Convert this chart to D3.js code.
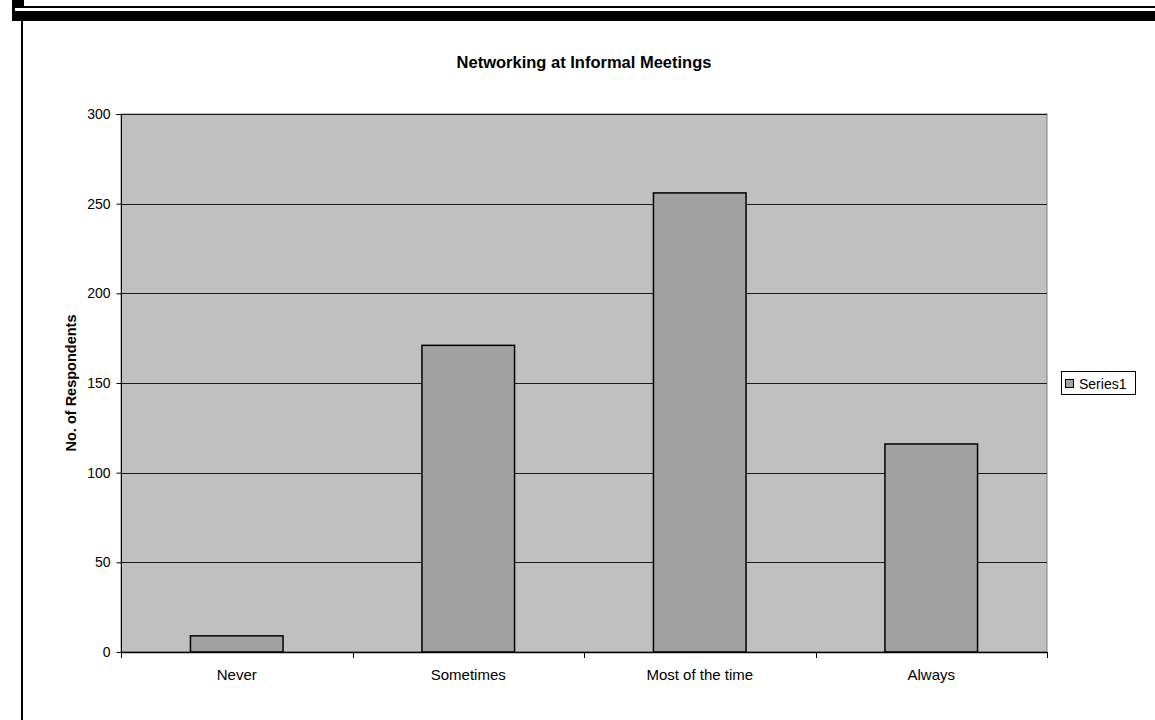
<!DOCTYPE html>
<html>
<head>
<meta charset="utf-8">
<script src="https://cdn.jsdelivr.net/npm/d3@7"></script>
<style>
  html, body { margin: 0; padding: 0; background: #fff; }
  svg { display: block; font-family: "Liberation Sans", Arial, sans-serif; }
</style>
</head>
<body>
<svg id="chart" width="1155" height="720"></svg>
<script>
// Survey responses: how often networking happens at informal meetings
const categories = ["Never", "Sometimes", "Most of the time", "Always"];
const values = [9, 171, 256, 116];
const yTicks = [0, 50, 100, 150, 200, 250, 300];
const seriesName = "Series1";
const chartTitle = "Networking at Informal Meetings";
const yTitle = "No. of Respondents";

const svg = d3.select("#chart");

// Document frame decoration along the top and left edges
const frame = svg.append("g");
frame.append("rect").attr("x", 12).attr("y", 0).attr("width", 12).attr("height", 8).attr("fill", "#000");
frame.append("rect").attr("x", 12).attr("y", 6).attr("width", 1143).attr("height", 2).attr("fill", "#000");
frame.append("rect").attr("x", 12).attr("y", 0).attr("width", 3).attr("height", 21).attr("fill", "#000");
frame.append("rect").attr("x", 12).attr("y", 11).attr("width", 1143).attr("height", 10).attr("fill", "#000");
frame.append("rect").attr("x", 21).attr("y", 21).attr("width", 2).attr("height", 699).attr("fill", "#000");

// Plot area
const plot = { left: 121, right: 1047, top: 114, bottom: 652 };

const x = d3.scaleBand()
  .domain(categories)
  .range([plot.left, plot.right])
  .paddingInner(0.6)
  .paddingOuter(0.3);

const xEdge = d3.scaleLinear().domain([0, categories.length]).range([plot.left, plot.right]);

const y = d3.scaleLinear().domain([0, 300]).range([plot.bottom, plot.top]);

// Background of the plot area
svg.append("rect")
  .attr("x", plot.left).attr("y", plot.top)
  .attr("width", plot.right - plot.left).attr("height", plot.bottom - plot.top)
  .attr("fill", "#c0c0c0")
  .attr("stroke", "#808080").attr("stroke-width", 1);

// Horizontal gridlines
svg.append("g")
  .selectAll("line")
  .data(yTicks.filter(d => d > 0))
  .join("line")
  .attr("x1", plot.left).attr("x2", plot.right)
  .attr("y1", d => Math.round(y(d)) + 0.5).attr("y2", d => Math.round(y(d)) + 0.5)
  .attr("stroke", "#1a1a1a").attr("stroke-width", 1);

// Bars
svg.append("g")
  .selectAll("rect")
  .data(values)
  .join("rect")
  .attr("x", (d, i) => x(categories[i]))
  .attr("y", d => y(d))
  .attr("width", x.bandwidth())
  .attr("height", d => y(0) - y(d))
  .attr("fill", "#a2a2a2")
  .attr("stroke", "#000").attr("stroke-width", 1.5);

// Y axis
const yAxis = d3.axisLeft(y).tickValues(yTicks).tickSize(5).tickPadding(6).tickFormat(d3.format("d"));
const gy = svg.append("g")
  .attr("transform", `translate(${plot.left + 0.5},0)`)
  .call(yAxis);
gy.select(".domain").attr("stroke", "#000").attr("d", `M-5,${plot.top + 0.5}H0V${plot.bottom}`);
gy.selectAll(".tick line").attr("stroke", "#000");
gy.selectAll(".tick text").attr("font-size", 14).attr("fill", "#000")
  .attr("font-family", "Liberation Sans, Arial, sans-serif");

// X axis: baseline, ticks at category boundaries, labels centred under bars
const gx = svg.append("g");
gx.append("line")
  .attr("x1", plot.left).attr("x2", plot.right)
  .attr("y1", plot.bottom + 0.5).attr("y2", plot.bottom + 0.5)
  .attr("stroke", "#000").attr("stroke-width", 1.5);
gx.selectAll("line.tick")
  .data(d3.range(categories.length + 1))
  .join("line")
  .attr("class", "tick")
  .attr("x1", i => Math.round(xEdge(i)) + 0.5).attr("x2", i => Math.round(xEdge(i)) + 0.5)
  .attr("y1", plot.bottom).attr("y2", plot.bottom + 6)
  .attr("stroke", "#000");
gx.selectAll("text")
  .data(categories)
  .join("text")
  .attr("x", d => x(d) + x.bandwidth() / 2)
  .attr("y", 680)
  .attr("text-anchor", "middle")
  .attr("font-size", 15)
  .attr("fill", "#000")
  .text(d => d);

// Title
svg.append("text")
  .attr("x", 584).attr("y", 68)
  .attr("text-anchor", "middle")
  .attr("font-size", 16.5).attr("font-weight", "bold")
  .text(chartTitle);

// Y-axis title
svg.append("text")
  .attr("transform", `translate(76,${(plot.top + plot.bottom) / 2}) rotate(-90)`)
  .attr("text-anchor", "middle")
  .attr("font-size", 14.5).attr("font-weight", "bold")
  .text(yTitle);

// Legend
const legend = svg.append("g").attr("transform", "translate(1061,371)");
legend.append("rect")
  .attr("x", 0.5).attr("y", 0.5).attr("width", 74).attr("height", 23)
  .attr("fill", "#fff").attr("stroke", "#000");
legend.append("rect")
  .attr("x", 4.5).attr("y", 8.5).attr("width", 8).attr("height", 8)
  .attr("fill", "#a2a2a2").attr("stroke", "#000");
legend.append("text")
  .attr("x", 18).attr("y", 17.5)
  .attr("font-size", 14).attr("fill", "#000")
  .text(seriesName);
</script>
</body>
</html>
